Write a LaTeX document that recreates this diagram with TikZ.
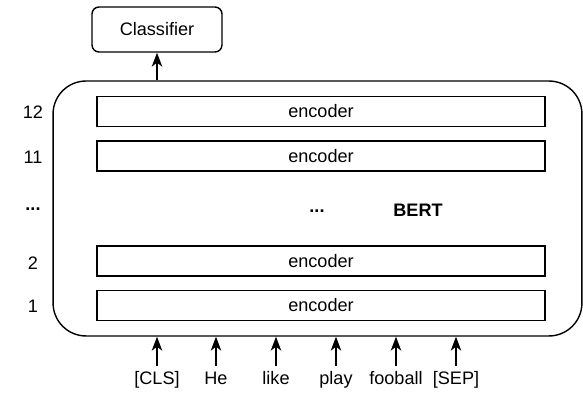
\documentclass[tikz,border=0pt]{standalone}
\usepackage{fontspec}
\setmainfont{Liberation Sans}
\usepackage{tikz}
\usetikzlibrary{arrows.meta,positioning,calc}
\tikzset{
  box/.style={draw, line width=0.8pt, align=center, inner sep=0pt, font=\fontsize{10.3}{12}\selectfont},
  encbox/.style={box, minimum width=8.96cm, minimum height=0.6cm},
  clsbox/.style={box, rounded corners=0.14cm, minimum width=2.6cm, minimum height=0.9cm},
  bertbox/.style={box, rounded corners=0.66cm, minimum width=10.58cm, minimum height=5.1cm},
  arr/.style={-{Stealth[length=2.8mm, width=2.1mm, inset=0.8mm]}, line width=0.8pt},
  lab/.style={font=\fontsize{10.3}{12}\selectfont, inner sep=0pt},
}

\begin{document}
\begin{tikzpicture}[x=0.02cm, y=-0.02cm]
    \useasboundingbox (0,0) rectangle (583,394);
    \node[bertbox] (bert) at (317.5,208.5) {};
    \node[clsbox] (cls) at (157,29.5) {Classifier};
    \node[encbox] (e12) at (321,111.5) {encoder};
    \node[encbox] (e11) at (321,156) {encoder};
    \node[encbox] (e2) at (321,261) {encoder};
    \node[encbox] (e1) at (321,305.5) {encoder};
    \node[lab, font=\fontsize{10.3}{12}\selectfont\bfseries] (mdots) at (317,211) {...};
    \node[lab, font=\fontsize{10.3}{12}\selectfont\bfseries] (name) at (418,210) {BERT};
    \node[lab] (l12) at (33,112) {12};
    \node[lab] (l11) at (33,157) {11};
    \node[lab, font=\fontsize{10.3}{12}\selectfont\bfseries] (ldots) at (33,209) {...};
    \node[lab] (l2) at (33,263) {2};
    \node[lab] (l1) at (33,306) {1};
    \node[lab, anchor=base] (w1) at (157,385) {[CLS]};
    \node[lab, anchor=base] (w2) at (216,385) {He};
    \node[lab, anchor=base] (w3) at (276,385) {like};
    \node[lab, anchor=base] (w4) at (336,385) {play};
    \node[lab, anchor=base] (w5) at (396,385) {fooball};
    \node[lab, anchor=base] (w6) at (456,385) {[SEP]};
    \coordinate (t1) at (157,366);
    \coordinate (t2) at (216,366);
    \coordinate (t3) at (276,366);
    \coordinate (t4) at (336,366);
    \coordinate (t5) at (396,366);
    \coordinate (t6) at (456,366);
    \draw[arr] (t1) -- (t1 |- bert.south); \draw[arr] (t2) -- (t2 |- bert.south);
    \draw[arr] (t3) -- (t3 |- bert.south); \draw[arr] (t4) -- (t4 |- bert.south);
    \draw[arr] (t5) -- (t5 |- bert.south); \draw[arr] (t6) -- (t6 |- bert.south);
    \draw[arr] (cls.south |- bert.north) -- (cls.south);
  \end{tikzpicture}
\end{document}
